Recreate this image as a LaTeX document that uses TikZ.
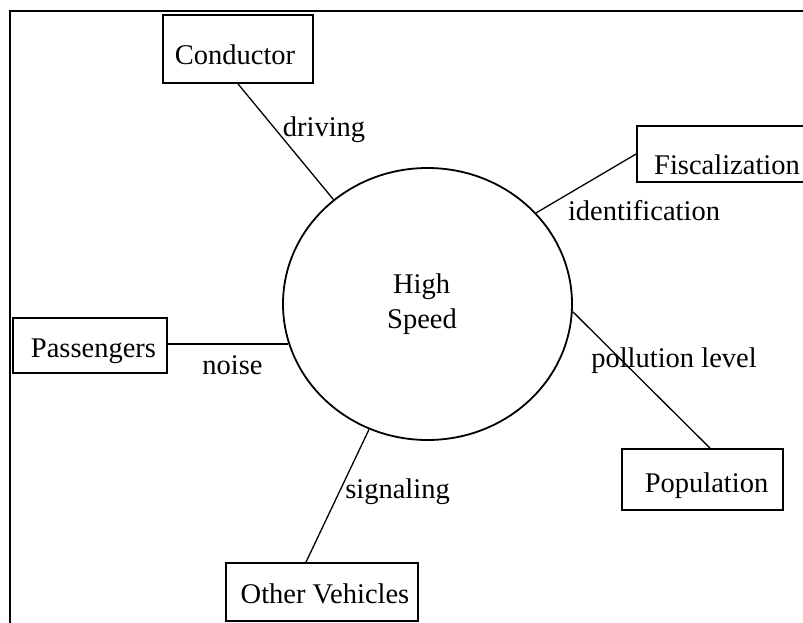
\documentclass[tikz,border=0pt]{standalone}
\usepackage{fontspec}
\setmainfont{Liberation Serif}
\usetikzlibrary{calc,shapes.geometric}
\begin{document}
\begin{tikzpicture}[x=1pt,y=-1pt,
  every node/.style={font=\fontsize{28.5}{33}\selectfont},
  box/.style={draw,line width=1.8pt,inner sep=0pt},
  txt/.style={anchor=base,inner sep=0pt},
  hub/.style={draw,ellipse,line width=1.8pt,inner sep=0pt,
              minimum width=289,minimum height=272},
  link/.style={line width=1.3pt},
  frame/.style={line width=1.8pt}]
\useasboundingbox (0,0) rectangle (803,623);

% outer frame (only its top and left sides fall inside the page)
\coordinate (ftl) at (10,11);
\coordinate (ftr) at (830,11);
\coordinate (fbl) at (10,650);
\draw[frame] (ftr) -- (ftl) -- (fbl);

% central process
\node[hub] (hs) at (427.5,304) {};
\node[txt] (hsa) at (421.5,293) {High};
\node[txt] (hsb) at (422,328) {Speed};

% surrounding entities
\node[box,minimum width=150,minimum height=68] (cond) at (238,49) {};
\node[txt] (condt) at (235,65) {Conductor};

\node[box,minimum width=180,minimum height=56] (fisc) at (727,154) {};
\node[txt] (fisct) at (727,175) {Fiscalization};

\node[box,minimum width=154,minimum height=55] (pass) at (90,345.5) {};
\node[txt] (passt) at (93.5,357) {Passengers};

\node[box,minimum width=192,minimum height=58] (ov) at (322,592) {};
\node[txt] (ovt) at (325,603) {Other Vehicles};

\node[box,minimum width=161,minimum height=61] (pop) at (702.5,479.5) {};
\node[txt] (popt) at (706.5,492) {Population};

% connectors
\draw[link] (cond.south) -- (hs.132.6);
\draw[link] (fisc.west) -- (hs.40.6);
\draw[link] (pass.east |- hs.196.9) -- (hs.196.9);
\draw[link] ($(ov.north)+(-16,0)$) -- (hs.245.1);
\draw[link] ($(pop.north)+(7.5,0)$) -- (hs.-3.6);

% connector labels
\node[txt] (l1) at (324,137) {driving};
\node[txt] (l2) at (644,220) {identification};
\node[txt] (l3) at (232.5,374) {noise};
\node[txt] (l4) at (397.5,498) {signaling};
\node[txt] (l5) at (674,367) {pollution level};
\end{tikzpicture}
\end{document}
